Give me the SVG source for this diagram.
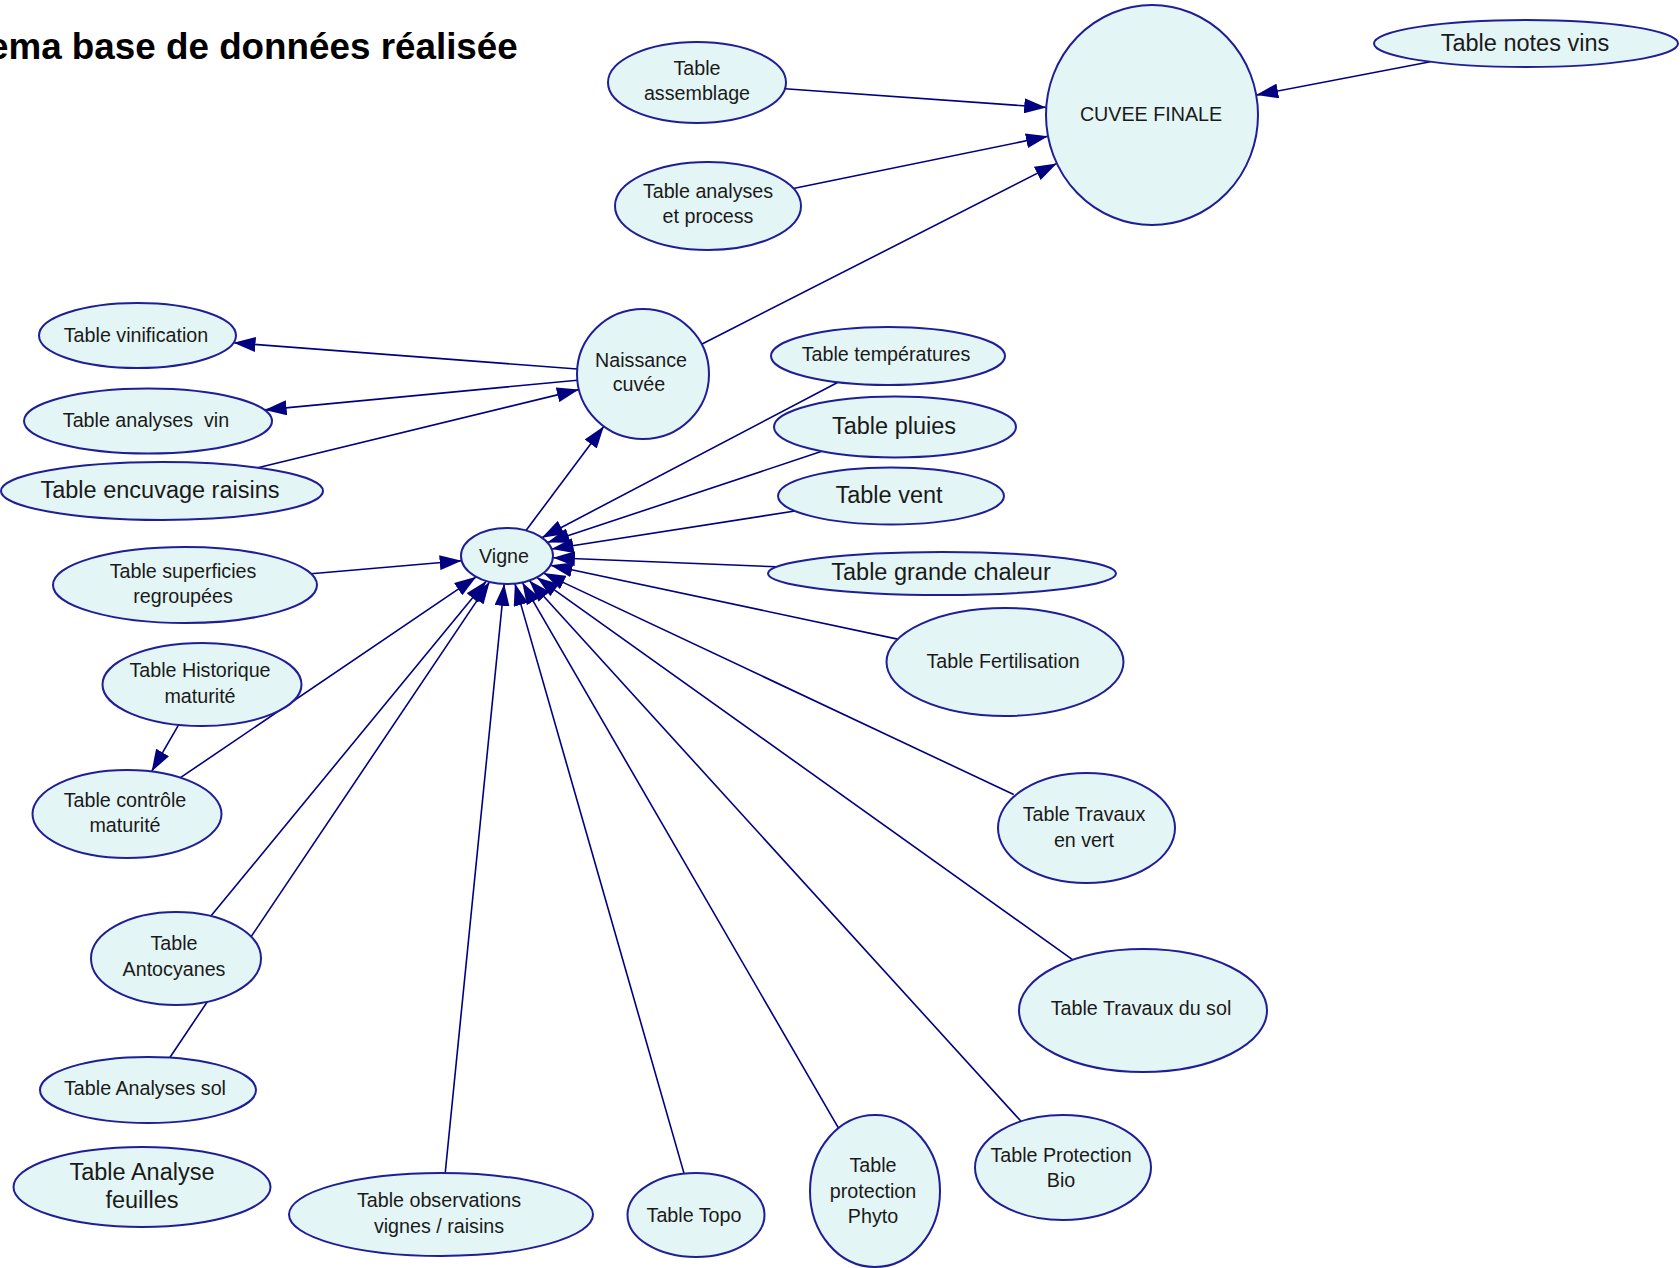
<svg xmlns="http://www.w3.org/2000/svg" width="1680" height="1268" viewBox="0 0 1680 1268">
<defs>
<marker id="arr" markerUnits="userSpaceOnUse" markerWidth="22" markerHeight="15" refX="22" refY="7.5" orient="auto">
<path d="M0,0 L22,7.5 L0,15 z" fill="#000080"/>
</marker>
<style>
.n ellipse{fill:#e4f5f5;stroke:#1e1e96;stroke-width:2}
.n text{font-family:"Liberation Sans",Arial,sans-serif;fill:#1a1a1a;text-anchor:middle}
.s{font-size:19.7px}
.l{font-size:23.5px}
#edges line{stroke:#000080;stroke-width:1.6;fill:none}
#edges line.a{marker-end:url(#arr)}
.title{font-family:"Liberation Sans",Arial,sans-serif;font-weight:bold;font-size:36.8px;fill:#000}
</style>
</defs>
<rect width="1680" height="1268" fill="#ffffff"/>
<text class="title" x="-12" y="59">ema base de données réalisée</text>

<g id="edges">
<line class="a" x1="785" y1="88.8" x2="1046.2" y2="107.4"/>
<line class="a" x1="793.3" y1="188.5" x2="1048" y2="136.3"/>
<line class="a" x1="701.6" y1="344.2" x2="1056.8" y2="163.4"/>
<line class="a" x1="1430.4" y1="61.8" x2="1256.2" y2="95.1"/>
<line class="a" x1="577.2" y1="369" x2="233.5" y2="342.8"/>
<line class="a" x1="577.3" y1="380.2" x2="264.6" y2="409.9"/>
<line class="a" x1="257.8" y1="467.7" x2="578.9" y2="389.6"/>
<line class="a" x1="526" y1="530.5" x2="603.9" y2="426.3"/>
<line class="a" x1="838" y1="382.2" x2="541.8" y2="537.7"/>
<line class="a" x1="821.9" y1="451.3" x2="547.4" y2="542.6"/>
<line class="a" x1="795" y1="511" x2="551.5" y2="549"/>
<line class="a" x1="776.5" y1="566.8" x2="552.9" y2="557.8"/>
<line class="a" x1="897.6" y1="639.1" x2="550.4" y2="565.2"/>
<line class="a" x1="1013.7" y1="794.5" x2="543.4" y2="573.1"/>
<line class="a" x1="1072.5" y1="959.6" x2="536.8" y2="577.3"/>
<line class="a" x1="1021" y1="1121.3" x2="529.3" y2="580.5"/>
<line class="a" x1="838.5" y1="1128.1" x2="522.3" y2="582.4"/>
<line class="a" x1="684.1" y1="1173.6" x2="514.9" y2="583.6"/>
<line class="a" x1="445.2" y1="1173" x2="504.2" y2="583.9"/>
<line class="a" x1="169.7" y1="1057.7" x2="489.6" y2="581.9"/>
<line class="a" x1="210.9" y1="916.1" x2="486.4" y2="581"/>
<line class="a" x1="180.4" y1="777.7" x2="476.3" y2="576.8"/>
<line class="a" x1="311" y1="573.7" x2="461.7" y2="560.8"/>
<line class="a" x1="178.6" y1="724.8" x2="151.6" y2="771.5"/>
</g>

<g id="n-assemblage" class="n"><ellipse cx="697" cy="82.5" rx="89" ry="40.5"/><text class="s" x="697" y="75">Table</text><text class="s" x="697" y="100">assemblage</text></g>
<g id="n-analyses-process" class="n"><ellipse cx="708" cy="206" rx="93" ry="44"/><text class="s" x="708" y="198">Table analyses</text><text class="s" x="708" y="223">et process</text></g>
<g id="n-cuvee" class="n"><ellipse cx="1152" cy="115" rx="106" ry="110"/><text class="s" x="1151" y="121">CUVEE FINALE</text></g>
<g id="n-notes-vins" class="n"><ellipse cx="1526" cy="43.5" rx="152" ry="23.5"/><text class="l" x="1525" y="51">Table notes vins</text></g>
<g id="n-vinification" class="n"><ellipse cx="137.5" cy="335.5" rx="98.5" ry="32.5"/><text class="s" x="136" y="342">Table vinification</text></g>
<g id="n-analyses-vin" class="n"><ellipse cx="148" cy="421" rx="124" ry="32.5"/><text class="s" x="146" y="427" xml:space="preserve">Table analyses  vin</text></g>
<g id="n-encuvage" class="n"><ellipse cx="162" cy="491" rx="161" ry="29"/><text class="l" x="160" y="498">Table encuvage raisins</text></g>
<g id="n-naissance" class="n"><ellipse cx="643" cy="374" rx="66" ry="65"/><text class="s" x="641" y="367">Naissance</text><text class="s" x="639" y="391">cuvée</text></g>
<g id="n-temperatures" class="n"><ellipse cx="888" cy="356" rx="117" ry="29"/><text class="s" x="886" y="361">Table températures</text></g>
<g id="n-pluies" class="n"><ellipse cx="895" cy="427" rx="121" ry="30.5"/><text class="l" x="894" y="434">Table pluies</text></g>
<g id="n-vent" class="n"><ellipse cx="891" cy="496" rx="113" ry="28.5"/><text class="l" x="889" y="503">Table vent</text></g>
<g id="n-grande-chaleur" class="n"><ellipse cx="942" cy="573.5" rx="174" ry="21.5"/><text class="l" x="941" y="580">Table grande chaleur</text></g>
<g id="n-vigne" class="n"><ellipse cx="507" cy="556" rx="46" ry="28"/><text class="s" x="504" y="563">Vigne</text></g>
<g id="n-superficies" class="n"><ellipse cx="185" cy="585" rx="132" ry="38"/><text class="s" x="183" y="578">Table superficies</text><text class="s" x="183" y="603">regroupées</text></g>
<g id="n-fertilisation" class="n"><ellipse cx="1005" cy="662" rx="118.5" ry="54"/><text class="s" x="1003" y="668">Table Fertilisation</text></g>
<g id="n-historique" class="n"><ellipse cx="202" cy="684.5" rx="99.5" ry="41.5"/><text class="s" x="200" y="677">Table Historique</text><text class="s" x="200" y="703">maturité</text></g>
<g id="n-controle" class="n"><ellipse cx="127" cy="814" rx="94.5" ry="44"/><text class="s" x="125" y="807">Table contrôle</text><text class="s" x="125" y="832">maturité</text></g>
<g id="n-travaux-vert" class="n"><ellipse cx="1086.5" cy="828" rx="88.5" ry="55"/><text class="s" x="1084" y="821">Table Travaux</text><text class="s" x="1084" y="847">en vert</text></g>
<g id="n-antocyanes" class="n"><ellipse cx="176" cy="958.5" rx="85" ry="46.5"/><text class="s" x="174" y="950">Table</text><text class="s" x="174" y="976">Antocyanes</text></g>
<g id="n-travaux-sol" class="n"><ellipse cx="1143" cy="1010.5" rx="124" ry="61.5"/><text class="s" x="1141" y="1015">Table Travaux du sol</text></g>
<g id="n-analyses-sol" class="n"><ellipse cx="148" cy="1090" rx="108" ry="33"/><text class="s" x="145" y="1095">Table Analyses sol</text></g>
<g id="n-analyse-feuilles" class="n"><ellipse cx="142" cy="1187" rx="128.5" ry="40"/><text class="l" x="142" y="1180">Table Analyse</text><text class="l" x="142" y="1208">feuilles</text></g>
<g id="n-observations" class="n"><ellipse cx="441" cy="1214.5" rx="152" ry="41.5"/><text class="s" x="439" y="1207">Table observations</text><text class="s" x="439" y="1233">vignes / raisins</text></g>
<g id="n-topo" class="n"><ellipse cx="696" cy="1215" rx="68.5" ry="42"/><text class="s" x="694" y="1222">Table Topo</text></g>
<g id="n-phyto" class="n"><ellipse cx="875" cy="1191" rx="65" ry="76"/><text class="s" x="873" y="1172">Table</text><text class="s" x="873" y="1198">protection</text><text class="s" x="873" y="1223">Phyto</text></g>
<g id="n-protection-bio" class="n"><ellipse cx="1063" cy="1167.5" rx="88" ry="52.5"/><text class="s" x="1061" y="1162">Table Protection</text><text class="s" x="1061" y="1187">Bio</text></g>
</svg>
